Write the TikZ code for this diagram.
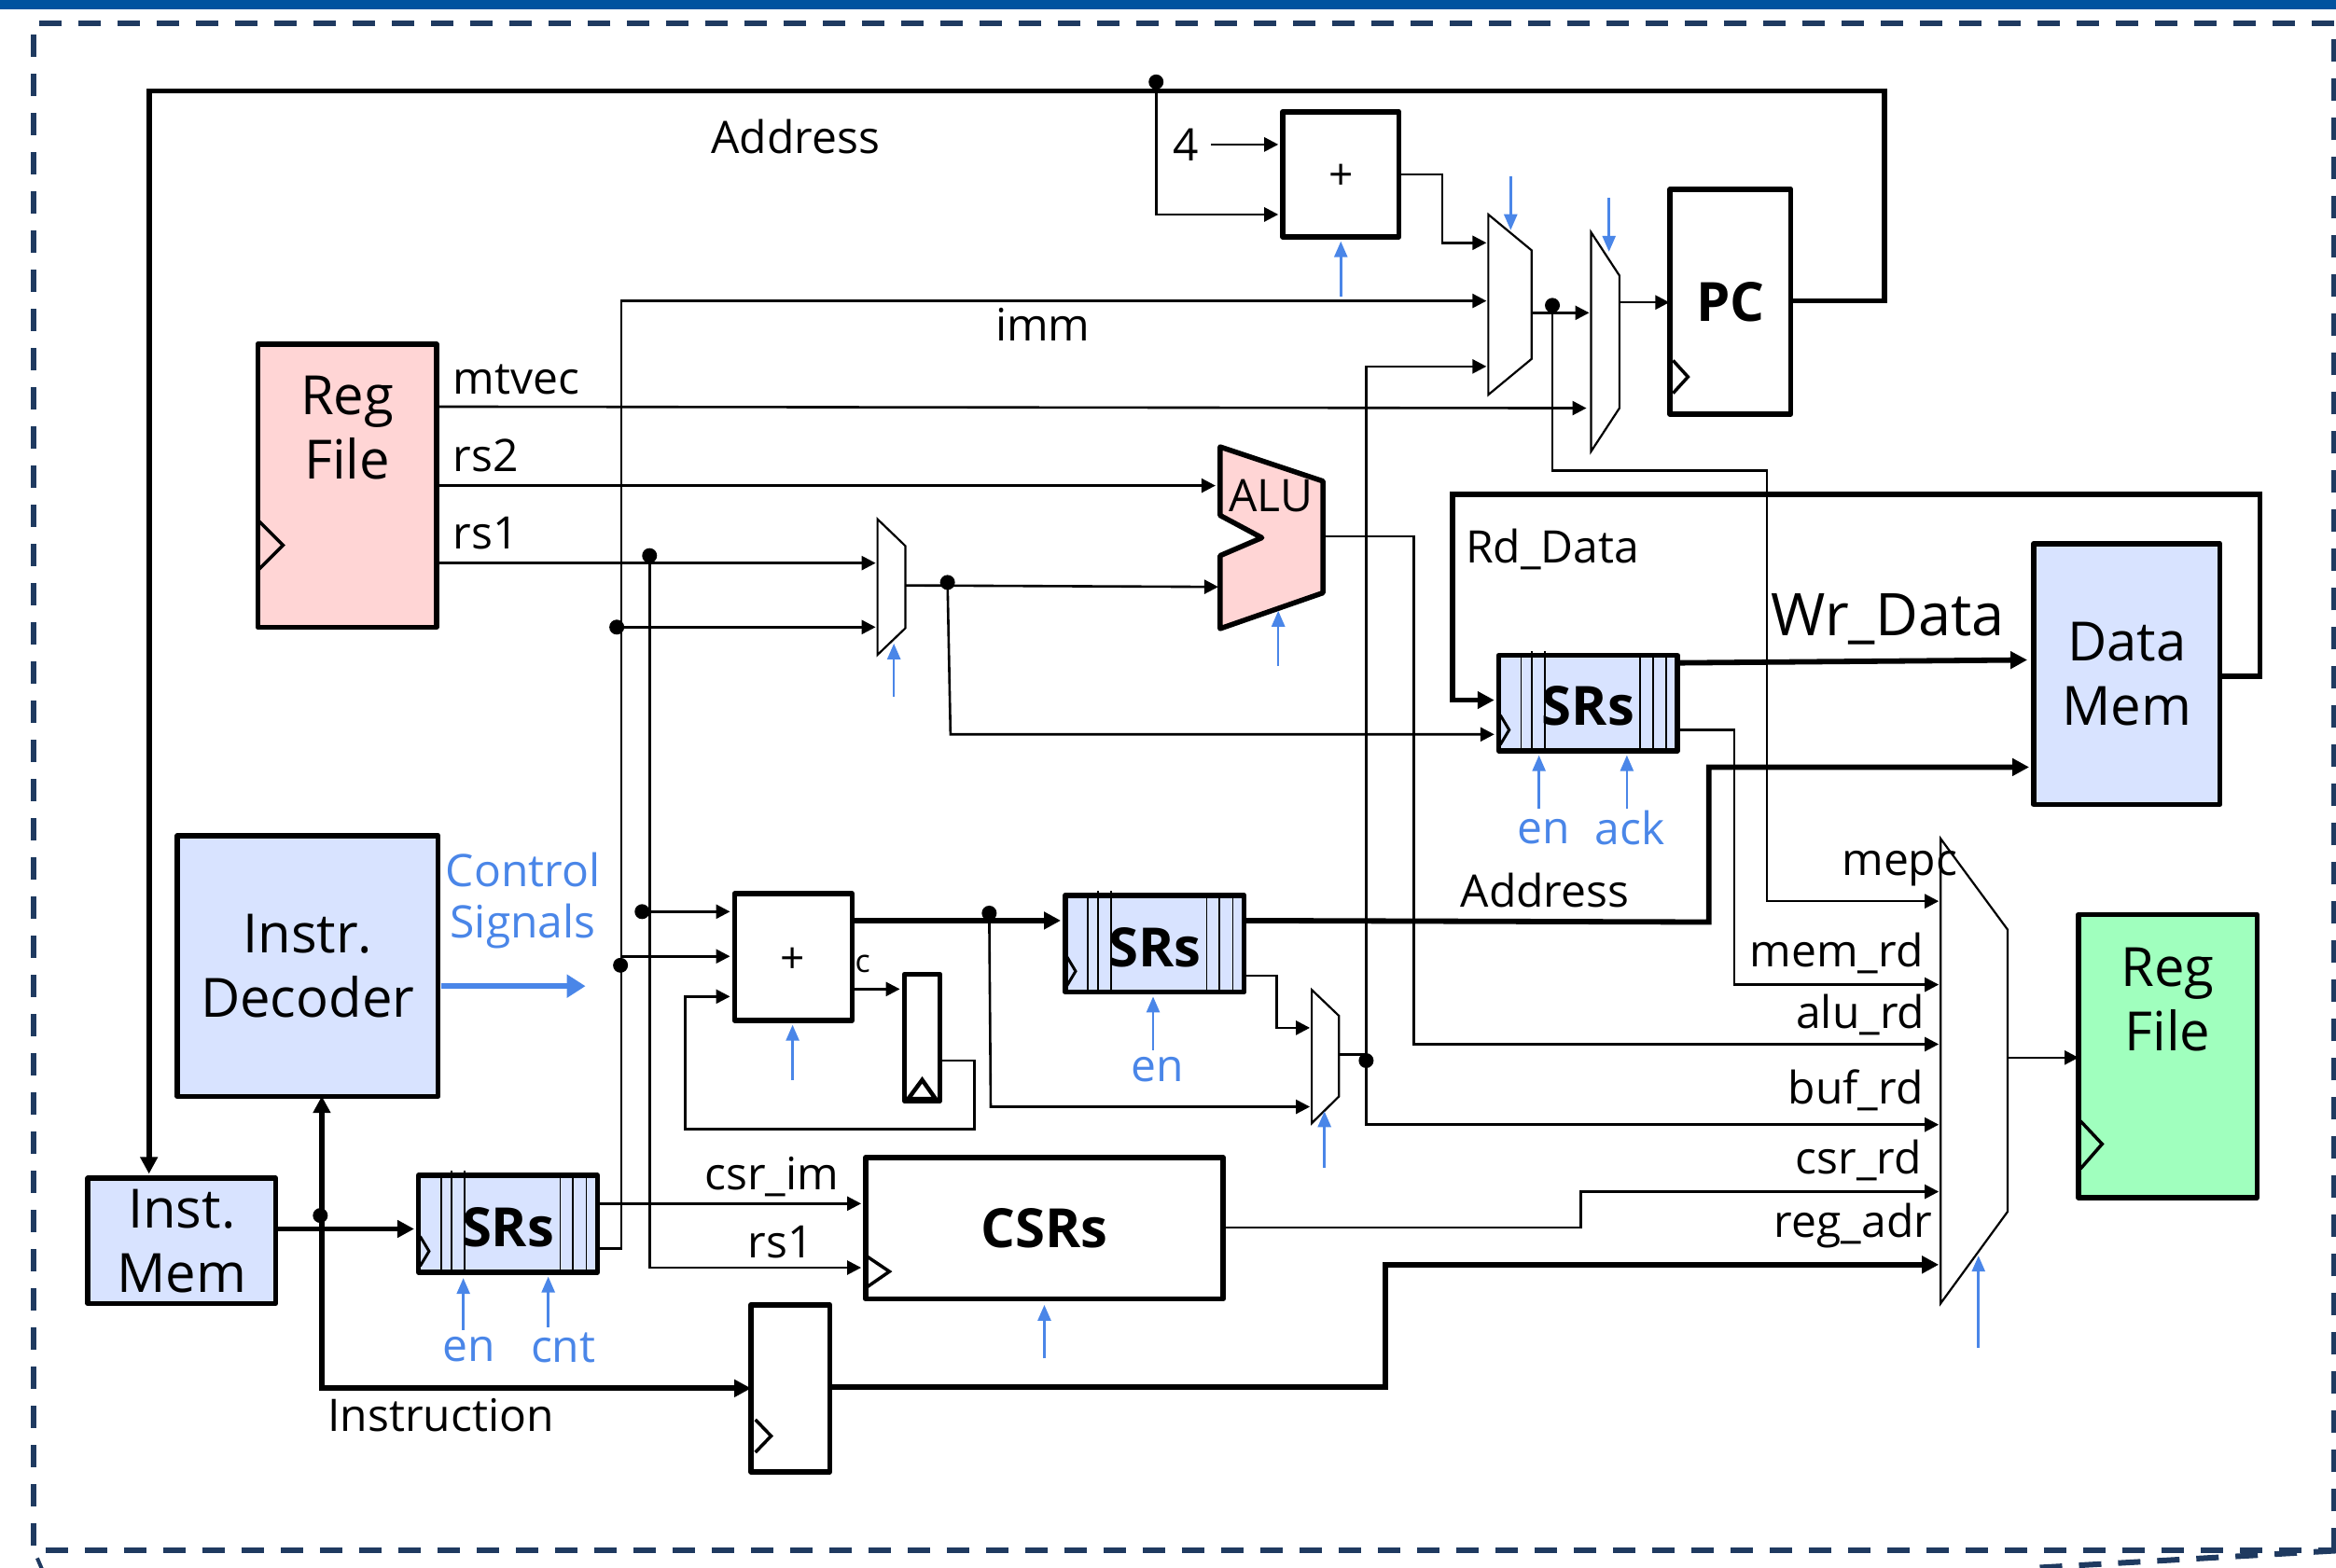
\documentclass[tikz,border=0pt]{standalone}
\usepackage{fontspec}
\setmainfont{Open Sans}
\usetikzlibrary{arrows.meta,calc}
\definecolor{barblue}{HTML}{00539F}
\definecolor{framec}{HTML}{1F3A60}
\definecolor{ctlblue}{HTML}{4A86E8}
\definecolor{fillblue}{HTML}{D8E3FF}
\definecolor{fillpink}{HTML}{FFD5D5}
\definecolor{fillgreen}{HTML}{A0FFBE}
\newcommand{\fs}[1]{\fontsize{#1pt}{69pt}\selectfont}
\newcommand{\blk}[7]{%
  \pgfmathsetmacro{\bw}{(#4-#2)*1.597}\pgfmathsetmacro{\bh}{(#5-#3)*1.597}%
  \pgfmathsetmacro{\cx}{(#2+#4)/2}\pgfmathsetmacro{\cy}{(#3+#5)/2}%
  \node[block,#6,minimum width=\bw pt,minimum height=\bh pt] (#1) at (\cx,\cy) {#7};}
\newcommand{\srlines}[3]{% left x, top y, bottom y
  \foreach \d in {15,22,31,95,103.5,112.5}{\draw[line width=1.7pt] ({#1+\d},{#2}) -- ({#1+\d},{#3});}%
  \foreach \d in {22,31}{\draw[line width=1.7pt] ({#1+\d},{#2-3}) -- ({#1+\d},{#2});}%
  \draw[line width=3pt] ({#1+1},{#3-24}) -- ({#1+7},{#3-14}) -- ({#1+1},{#3-4});}
\tikzset{
  block/.style={draw=black,line width=5.5pt,line join=round,inner sep=0pt,align=center},
  wire/.style={draw=black,line width=2.6pt,line join=miter},
  thick wire/.style={draw=black,line width=5.8pt,line join=miter},
  tip/.style={-{Triangle[length=15pt,width=15pt]},shorten >=2pt},
  big tip/.style={-{Triangle[length=18pt,width=18pt]},shorten >=2pt},
  ctrl/.style={draw=ctlblue,line width=2.6pt,-{Triangle[length=17pt,width=14pt]}},
  dot/.style={circle,fill=black,draw=none,minimum size=16pt,inner sep=0pt},
  lab/.style={font=\fs{48},inner sep=0pt,text=black},
  blab/.style={font=\fs{48},inner sep=0pt,text=ctlblue},
  mux/.style={draw=black,line width=2.2pt,line join=miter,fill=white},
  clk/.style={draw=black,line width=3.5pt,line join=miter},
  big/.style={font=\fs{58}},
  bigb/.style={font=\fs{58}\bfseries},
}
\begin{document}
\begin{tikzpicture}[x=1.597pt,y=-1.597pt]
\useasboundingbox (0,0) rectangle (1568,1052.6);
% page furniture
\fill[barblue] (0,0) rectangle (1568,6);
\draw[framec,line width=6pt,dash pattern=on 24pt off 18pt] (1567,1041) -- (1567,15.6) -- (22.7,15.6) -- (22.7,1041) -- (1567,1041);
\draw[framec,line width=6pt,dash pattern=on 24pt off 18pt] (1568,1041) -- (1364,1052.6);
\draw[framec,line width=4pt] (25,1046) -- (28,1053);
% blocks
\blk{pc}{1121}{127}{1202}{278}{fill=white,bigb}{PC}
\blk{adda}{861}{75}{939}{159}{fill=white}{}
\blk{regl}{173}{231}{293}{421}{fill=fillpink}{}
\blk{dec}{119}{561}{294}{736}{fill=fillblue,big}{Instr.\\Decoder}
\blk{imem}{59}{791}{185}{875}{fill=fillblue,big}{Inst.\\Mem}
\blk{srsa}{281}{789}{401}{854}{fill=fillblue}{}
\blk{srsb}{715}{601}{835}{666}{fill=fillblue}{}
\blk{srsc}{1006}{440}{1126}{504}{fill=fillblue}{}
\blk{dmem}{1365}{365}{1490}{540}{fill=fillblue,big}{Data\\Mem}
\blk{regr}{1395}{614}{1515}{804}{fill=fillgreen}{}
\blk{csrs}{581}{777}{821}{872}{fill=white,bigb}{CSRs}
\blk{ffa}{504}{876}{557}{988}{fill=white}{}
\blk{addb}{493}{600}{572}{685}{fill=white}{}
\blk{ffb}{607}{654}{631}{739}{fill=white}{}
\node[lab,font=\fs{46}] (plusa) at (900,119) {+};
\node[lab,font=\fs{46}] (plusb) at (532,645) {+};
\srlines{281}{789}{854}\srlines{715}{601}{666}\srlines{1006}{440}{504}
\node[font=\fs{58}\bfseries,inner sep=0pt] (srsat) at (341,824) {SRs};
\node[font=\fs{58}\bfseries,inner sep=0pt] (srsbt) at (775,636) {SRs};
\node[font=\fs{58}\bfseries,inner sep=0pt] (srsct) at (1066,474) {SRs};
\node[big,inner sep=0pt,align=center] (reglt) at (233,287) {Reg\\File};
\node[big,inner sep=0pt,align=center] (regrt) at (1455,671) {Reg\\File};
% clock marks
\draw[clk] (1123,242) -- (1133,253) -- (1123,264);
\draw[clk] (174,350) -- (190,366) -- (174,382);
\draw[clk] (1396.5,752.6) -- (1411,768) -- (1396.5,784.6);
\draw[clk] (582,843.5) -- (597,853.6) -- (582,864);
\draw[clk] (507,953) -- (517.6,964) -- (507,975);
\draw[clk,line width=4.5pt] (609.6,737.7) -- (619,725) -- (628,737.7) -- cycle;
% ALU and muxes
\draw[draw=black,line width=5.5pt,line join=round,fill=fillpink] (819,300) -- (888,323) -- (888,398) -- (819,422) -- (819,373) -- (847,361) -- (819,346) -- cycle;
\draw[mux] (999,144) -- (1028,168) -- (1028,241) -- (999,265) -- cycle;
\draw[mux] (1068,156) -- (1087,185) -- (1087,274) -- (1068,303) -- cycle;
\draw[mux] (589,348.5) -- (607.7,366.5) -- (607.7,421.7) -- (589,439.6) -- cycle;
\draw[mux] (880.5,664.5) -- (898.8,682) -- (898.8,736) -- (880.5,754) -- cycle;
\draw[mux] (1302.6,563) -- (1347.5,624) -- (1347.5,813.5) -- (1302.6,875) -- cycle;
\coordinate (alua) at (819,0); \coordinate (alub) at (888,0);
\coordinate (ma) at (589,0); \coordinate (mae) at (607.7,0);
\coordinate (mb) at (999,0); \coordinate (mbe) at (1028,0);
\coordinate (mc) at (1068,0); \coordinate (mce) at (1087,0);
\coordinate (md) at (880.5,0); \coordinate (mde) at (898.8,0);
\coordinate (me) at (1302.6,0); \coordinate (mee) at (1347.5,0);
% dots
\node[dot] (dtop) at (776,55) {};
\node[dot] (dmuxb) at (1042,205) {};
\node[dot] (drsa) at (436,373) {};
\node[dot] (dimm) at (414,421) {};
\node[dot] (dmuxa) at (636,391) {};
\node[dot] (dcin) at (431,612) {};
\node[dot] (dimmb) at (416.5,648) {};
\node[dot] (dsum) at (664,613) {};
\node[dot] (dmuxd) at (917,712) {};
\node[dot] (dinstr) at (215,816) {};
% thick wires
\draw[thick wire,big tip] (pc.east |- 0,202) -- (1265,202) -- (1265,61) -- (100,61) -- (imem.north -| 100,0);
\draw[thick wire,big tip] (imem.east |- 0,825) -- (srsa.west |- 0,825);
\draw[thick wire,big tip,shorten >=-3pt] (216,825) -- (dec.south -| 216,0);
\draw[thick wire,big tip,shorten >=-3pt] (216,825) -- (216,932) -- (ffa.west |- 0,932);
\draw[thick wire,big tip] (ffa.east |- 0,931) -- (930,931) -- (930,849) -- (me |- 0,849);
\draw[thick wire,big tip] (addb.east |- 0,618) -- (srsb.west |- 0,618);
\draw[thick wire,big tip] (srsb.east |- 0,618) -- (1147,619) -- (1147,515) -- (dmem.west |- 0,515);
\draw[thick wire,big tip,shorten >=4pt] (srsc.east |- 0,445) -- (dmem.west |- 0,443);
\draw[thick wire,big tip] (dmem.east |- 0,454) -- (1517,454) -- (1517,332) -- (975,332) -- (975,470) -- (srsc.west |- 0,470);
% thin wires
\draw[wire] (dtop.center) -- (776,61);
\draw[wire,tip] (776,61) -- (776,144) -- (adda.west |- 0,144);
\node[lab] (four) at (796,97) {4};
\draw[wire,tip] (813,97) -- (adda.west |- 0,97);
\draw[wire,tip] (adda.east |- 0,117) -- (968,117) -- (968,163) -- (mb |- 0,163);
\draw[wire,tip] (srsa.east |- 0,838) -- (417,838) -- (417,202) -- (mb |- 0,202);
\draw[wire,tip] (dmuxd.center) -- (917,246) -- (mb |- 0,246);
\draw[wire,tip] (mbe |- 0,210) -- (mc |- 0,210);
\draw[wire,tip,shorten >=-2pt] (mce |- 0,203) -- (pc.west |- 0,203);
\draw[wire,tip] (dmuxb.center) -- (1042,316) -- (1186,316) -- (1186,605) -- (me |- 0,605);
\draw[wire,tip,shorten >=5pt] (regl.east |- 0,273) -- (mc |- 0,274);
\draw[wire,tip,shorten >=5pt] (regl.east |- 0,326) -- (alua |- 0,326);
\draw[wire,tip] (regl.east |- 0,378) -- (ma |- 0,378);
\draw[wire,tip] (drsa.center) -- (436,851) -- (csrs.west |- 0,851);
\draw[wire,tip] (dimm.center) -- (ma |- 0,421);
\draw[wire,tip] (mae |- 0,393) -- (alua |- 0,394);
\draw[wire,tip] (dmuxa.center) -- (638,493) -- (srsc.west |- 0,493);
\draw[wire,tip] (alub |- 0,360) -- (949,360) -- (949,701) -- (me |- 0,701);
\draw[wire,tip] (srsc.east |- 0,490) -- (1164,490) -- (1164,661) -- (me |- 0,661);
\draw[wire,tip,shorten >=-3pt] (mee |- 0,710) -- (regr.west |- 0,710);
\draw[wire,tip] (mde |- 0,708) -- (917,708) -- (917,755) -- (me |- 0,755);
\draw[wire,tip] (csrs.east |- 0,824) -- (1061,824) -- (1061,800) -- (me |- 0,800);
\draw[wire,tip] (srsa.east |- 0,808) -- (csrs.west |- 0,808);
\draw[wire,tip] (dcin.center) -- (addb.west |- 0,612);
\draw[wire,tip] (417,642) -- (addb.west |- 0,642);
\draw[wire,tip] (ffb.east |- 0,712) -- (654,712) -- (654,758) -- (460,758) -- (460,669) -- (addb.west |- 0,669);
\draw[wire,tip] (addb.east |- 0,664) -- (ffb.west |- 0,664);
\draw[wire,tip] (dsum.center) -- (665,743) -- (md |- 0,743);
\draw[wire,tip] (srsb.east |- 0,655) -- (857,655) -- (857,690) -- (md |- 0,690);
% control arrows
\foreach \n/\x/\ya/\yb in {a/900/199/162,b/1014/118.5/154.5,c/1080/133/169,d/858/447/410,e/600/468/432,f/1033/543/507,g/1092/543/507,h/1328/905/843,i/532/725/688,j/774/705/669,k/889/784/746,l/311/893/858,m/368/891/857,n/701/912/876}{
  \coordinate (ctl\n) at (\x,\ya);
  \draw[ctrl] (ctl\n) -- (\x,\yb);
}
\coordinate (cts) at (296,662);
\draw[draw=ctlblue,line width=6.5pt,-{Triangle[length=20pt,width=24pt]}] (cts) -- (393,662);
% labels
\node[lab] (tadda) at (534,92) {Address};
\node[lab] (timm) at (700,218) {imm};
\node[lab,anchor=west] (tmt) at (304,255) {mtvec};
\node[lab,anchor=west] (trs2) at (304,306) {rs2};
\node[lab,anchor=west] (trs1) at (304,358) {rs1};
\node[lab] (talu) at (853,333) {ALU};
\node[lab] (trd) at (1042,368.5) {Rd\_Data};
\node[lab,font=\fs{63}] (twr) at (1267,416) {Wr\_Data};
\node[blab] (ten) at (1036,558.5) {en};
\node[blab] (tack) at (1094,556) {ack};
\node[lab] (taddb) at (1037,598) {Address};
\node[lab,anchor=east] (tmepc) at (1314,583) {mepc};
\node[lab,anchor=east] (tmem) at (1291,640) {mem\_rd};
\node[lab,anchor=east] (talurd) at (1292,681) {alu\_rd};
\node[lab,anchor=east] (tbuf) at (1291,732) {buf\_rd};
\node[lab,anchor=east] (tcsr) at (1290,779) {csr\_rd};
\node[lab,anchor=east] (treg) at (1297,823) {reg\_adr};
\node[blab] (tctl) at (351,584) {Control};
\node[blab] (tsig) at (351,622) {Signals};
\node[lab,font=\fs{34}] (tc) at (579,647) {c};
\node[blab] (tena) at (777,718) {en};
\node[lab] (tim) at (518,790) {csr\_im};
\node[lab] (trsb) at (524,834) {rs1};
\node[blab] (tenb) at (315,906) {en};
\node[blab] (tcnt) at (378,905) {cnt};
\node[lab,anchor=west] (tins) at (220,950) {Instruction};
\end{tikzpicture}
\end{document}
